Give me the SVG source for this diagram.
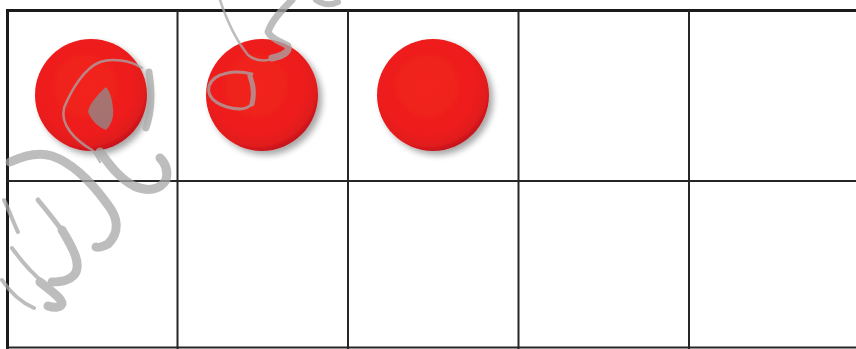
<svg xmlns="http://www.w3.org/2000/svg" width="856" height="349" viewBox="0 0 856 349">
<style>
.g{stroke:#262626;stroke-width:2;fill:none}
.gb{stroke:#1a1a1a;stroke-width:3;fill:none}
.wm{stroke:#a8a8a8;fill:none;stroke-linecap:round;stroke-linejoin:round}
.c{fill:url(#red);filter:url(#sh)}
</style>
<defs>
<radialGradient id="red" cx="0.45" cy="0.42" r="0.6">
<stop offset="0" stop-color="#f2241f"/>
<stop offset="0.72" stop-color="#ee1d1d"/>
<stop offset="0.9" stop-color="#df1a1a"/>
<stop offset="1" stop-color="#b8141a"/>
</radialGradient>
<filter id="sh" x="-20%" y="-20%" width="150%" height="150%">
<feGaussianBlur in="SourceAlpha" stdDeviation="3"/>
<feOffset dx="4" dy="4" result="b"/>
<feComponentTransfer><feFuncA type="linear" slope="0.35"/></feComponentTransfer>
<feMerge><feMergeNode/><feMergeNode in="SourceGraphic"/></feMerge>
</filter>
</defs>
<rect width="856" height="349" fill="#fff"/>
<g id="frame">
<line class="gb" x1="6" y1="10.5" x2="856" y2="10.5"/>
<line class="gb" x1="7.5" y1="9" x2="7.5" y2="349"/>
<line class="g" x1="7" y1="181" x2="856" y2="181"/>
<line class="g" x1="7" y1="347.5" x2="856" y2="347.5"/>
<line class="g" x1="177.5" y1="10" x2="177.5" y2="349"/>
<line class="g" x1="348" y1="10" x2="348" y2="349"/>
<line class="g" x1="518.5" y1="10" x2="518.5" y2="349"/>
<line class="g" x1="689" y1="10" x2="689" y2="349"/>
</g>
<g id="counter1"><circle class="c" cx="91" cy="95" r="56"/></g>
<g id="counter2"><circle class="c" cx="262" cy="95" r="56"/></g>
<g id="counter3"><circle class="c" cx="433" cy="95" r="56"/></g>
<g id="watermark" opacity="0.75">
<path class="wm" stroke-width="2.5" d="M142,68 C130,60 112,58 100,62 C85,68 72,88 64,108 C60,125 75,140 92,150 C96,154 98,158 100,162"/>
<path class="wm" stroke-width="7" d="M149,72 C152,90 152,110 146,128"/>
<path fill="#8e8e8e" d="M106,87 C98,94 89,104 88,112 C92,122 100,128 106,130 C112,124 114,116 113,108 C112,98 110,92 106,87 Z"/>
<path class="wm" stroke-width="3" d="M252,74 C236,70 214,72 209,86 C206,100 222,108 240,109 C246,109 250,106 252,104"/>
<path class="wm" stroke-width="5" d="M250,76 C254,86 254,96 252,104"/>
<path class="wm" stroke-width="2.5" d="M220,0 C226,18 236,40 248,55 C256,62 268,62 280,56"/>
<path class="wm" stroke-width="7" d="M292,0 C282,10 272,20 268,32 C272,40 282,42 288,46 C290,52 282,56 272,58"/>
<path class="wm" stroke-width="6" d="M316,0 C322,4 330,6 338,2"/>
<path class="wm" stroke-width="9" d="M10,162 C25,155 40,152 52,156 C70,162 90,180 108,205 C118,218 120,232 108,244 C102,247 98,248 96,247"/>
<path class="wm" stroke-width="5" d="M38,200 C48,212 56,222 66,236"/>
<path class="wm" stroke-width="9" d="M62,230 C74,250 80,262 76,272 C72,280 62,282 52,282"/>
<path class="wm" stroke-width="4" d="M12,248 C22,262 34,275 44,283"/>
<path class="wm" stroke-width="9" d="M40,282 C52,292 62,298 62,304 C60,308 54,308 48,306"/>
<path class="wm" stroke-width="4" d="M2,280 C10,292 20,302 34,308"/>
<path class="wm" stroke-width="9" d="M100,152 C108,162 118,178 134,186 C148,192 160,190 166,180 C168,172 166,164 160,158"/>
<path class="wm" stroke-width="4" d="M4,200 C10,212 14,224 18,232"/>
</g>
</svg>
